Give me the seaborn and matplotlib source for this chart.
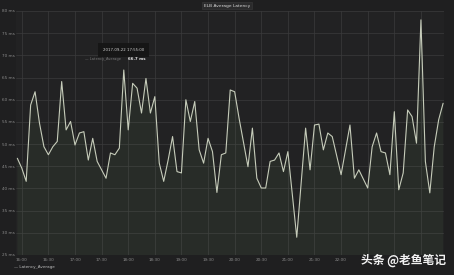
import matplotlib
matplotlib.use("Agg")
import matplotlib.pyplot as plt
import seaborn as sns
import pandas as pd

# ---- data ----
times = ["15:55", "16:00", "16:05", "16:10", "16:15", "16:20", "16:25", "16:30", "16:35", "16:40",
         "16:45", "16:50", "16:55", "17:00", "17:05", "17:10", "17:15", "17:20", "17:25", "17:35",
         "17:40", "17:45", "17:50", "17:55", "18:00", "18:05", "18:10", "18:15", "18:20", "18:25",
         "18:30", "18:35", "18:40", "18:45", "18:50", "18:55", "19:00", "19:05", "19:10", "19:15",
         "19:20", "19:25", "19:30", "19:35", "19:40", "19:45", "19:50", "19:55", "20:00", "20:05",
         "20:15", "20:20", "20:25", "20:30", "20:35", "20:40", "20:45", "20:50", "20:55", "21:00",
         "21:10", "21:20", "21:25", "21:30", "21:35", "21:40", "21:45", "21:50", "22:00", "22:10",
         "22:15", "22:20", "22:30", "22:35", "22:40", "22:45", "22:50", "22:55", "23:00", "23:05",
         "23:10", "23:15", "23:20", "23:25", "23:30", "23:35", "23:40", "23:45", "23:50", "23:55"]
latency = [46.8, 44.6, 41.6, 58.8, 61.8, 54.7, 49.4, 47.6, 49.4, 50.6,
           64.1, 53.2, 55.1, 49.8, 52.5, 52.8, 46.4, 51.3, 46.1, 42.3,
           48.0, 47.6, 49.1, 66.7, 53.2, 63.7, 62.6, 57.0, 64.8, 57.0,
           60.7, 45.7, 41.6, 46.4, 51.7, 43.8, 43.5, 60.0, 55.1, 59.6,
           48.7, 45.7, 51.3, 48.3, 39.1, 47.6, 48.0, 62.2, 61.8, 55.8,
           44.9, 53.6, 42.3, 40.1, 40.1, 46.1, 46.4, 48.0, 43.8, 48.3,
           29.0, 53.6, 44.2, 54.3, 54.5, 48.7, 52.5, 51.7, 43.1, 54.3,
           42.3, 44.2, 40.1, 49.4, 52.5, 48.3, 48.0, 43.1, 57.3, 39.7,
           43.5, 57.7, 56.2, 50.2, 78.0, 46.1, 39.0, 49.4, 55.5, 59.2]
# tick positions every 30 min; the last three labels are hidden under the watermark
x_tick_times = ["16:00", "16:30", "17:00", "17:30", "18:00", "18:30", "19:00", "19:30",
                "20:00", "20:30", "21:00", "21:30", "22:00", "22:30", "23:00", "23:30"]
x_tick_labels = ["16:00", "16:30", "17:00", "17:30", "18:00", "18:30", "19:00", "19:30",
                 "20:00", "20:30", "21:00", "21:30", "22:00", "", "", ""]
y_ticks = [25, 30, 35, 40, 45, 50, 55, 60, 65, 70, 75, 80]
title = "ELB Average Latency"
series_name = "Latency_Average"
tooltip_time = "2017-09-22 17:55:00"
tooltip_value = 66.7


def to_min(s):
    h, m = s.split(":")
    return int(h) * 60 + int(m)


df = pd.DataFrame({"t": [to_min(s) for s in times], "latency": latency})

sns.set_style("dark")
plt.rcParams['font.family'] = ['DejaVu Sans']

BG = "#1f1f20"
fig = plt.figure(figsize=(4.54, 2.75), dpi=100, facecolor=BG)
ax = fig.add_axes([16 / 454, 1 - 255 / 275, 428 / 454, 244 / 275])
ax.set_facecolor("#222223")

line_col = "#c6ccba"
sns.lineplot(data=df, x="t", y="latency", ax=ax, color=line_col, linewidth=0.8)
ax.fill_between(df["t"], df["latency"], 0, color="#7EB26D", alpha=0.07, linewidth=0)

ax.set_xlim(953.5, 1436)
ax.set_ylim(25, 80)
ax.set_xticks([to_min(s) for s in x_tick_times])
ax.set_xticklabels(x_tick_labels)
ax.set_yticks(y_ticks)
ax.set_yticklabels([f"{v} ms" for v in y_ticks])
ax.tick_params(axis="both", length=0, colors="#8c8c8c", labelsize=3)
ax.tick_params(axis="y", pad=1)
ax.tick_params(axis="x", pad=2.5)
ax.grid(True, color="#3b3b3c", linewidth=0.5)
ax.set_axisbelow(True)
for sp in ax.spines.values():
    sp.set_visible(False)
ax.set_xlabel("")
ax.set_ylabel("")

# title
fig.text(0.5, 1 - 5.5 / 275, title, ha="center", va="center", fontsize=3.2, color="#d8d8d8",
         bbox=dict(boxstyle="square,pad=0.4", fc="#2b2b2c", ec="#3a3a3a", lw=0.4))

# legend
fig.text(14 / 454, 1 - 267 / 275, "\u2014 " + series_name, ha="left", va="center",
         fontsize=3, color="#bdbdbd")

# tooltip
tx = to_min("17:55")
ax.annotate(tooltip_time, xy=(tx, tooltip_value), xytext=(tx, 71.2), ha="center", va="center",
            fontsize=2.8, color="#d0d0d0",
            bbox=dict(boxstyle="square,pad=1.2", fc="#151515", ec="none", alpha=0.92))
ax.text(tx - 3, 69.1, "\u2014 " + series_name, ha="right", va="center", fontsize=2.6, color="#777777")
ax.text(tx + 5, 69.1, f"{tooltip_value} ms", ha="left", va="center", fontsize=2.8, color="#e6e6e6",
        fontweight="bold")

# watermark
fig.text(446 / 454, 1 - 260 / 275, "头条 @老鱼笔记", ha="right", va="center", fontsize=8.5,
         color="#f2f2f2", family=["Noto Sans CJK SC", "DejaVu Sans"], fontweight="bold")

fig.savefig("out.png", dpi=100, facecolor=BG)
